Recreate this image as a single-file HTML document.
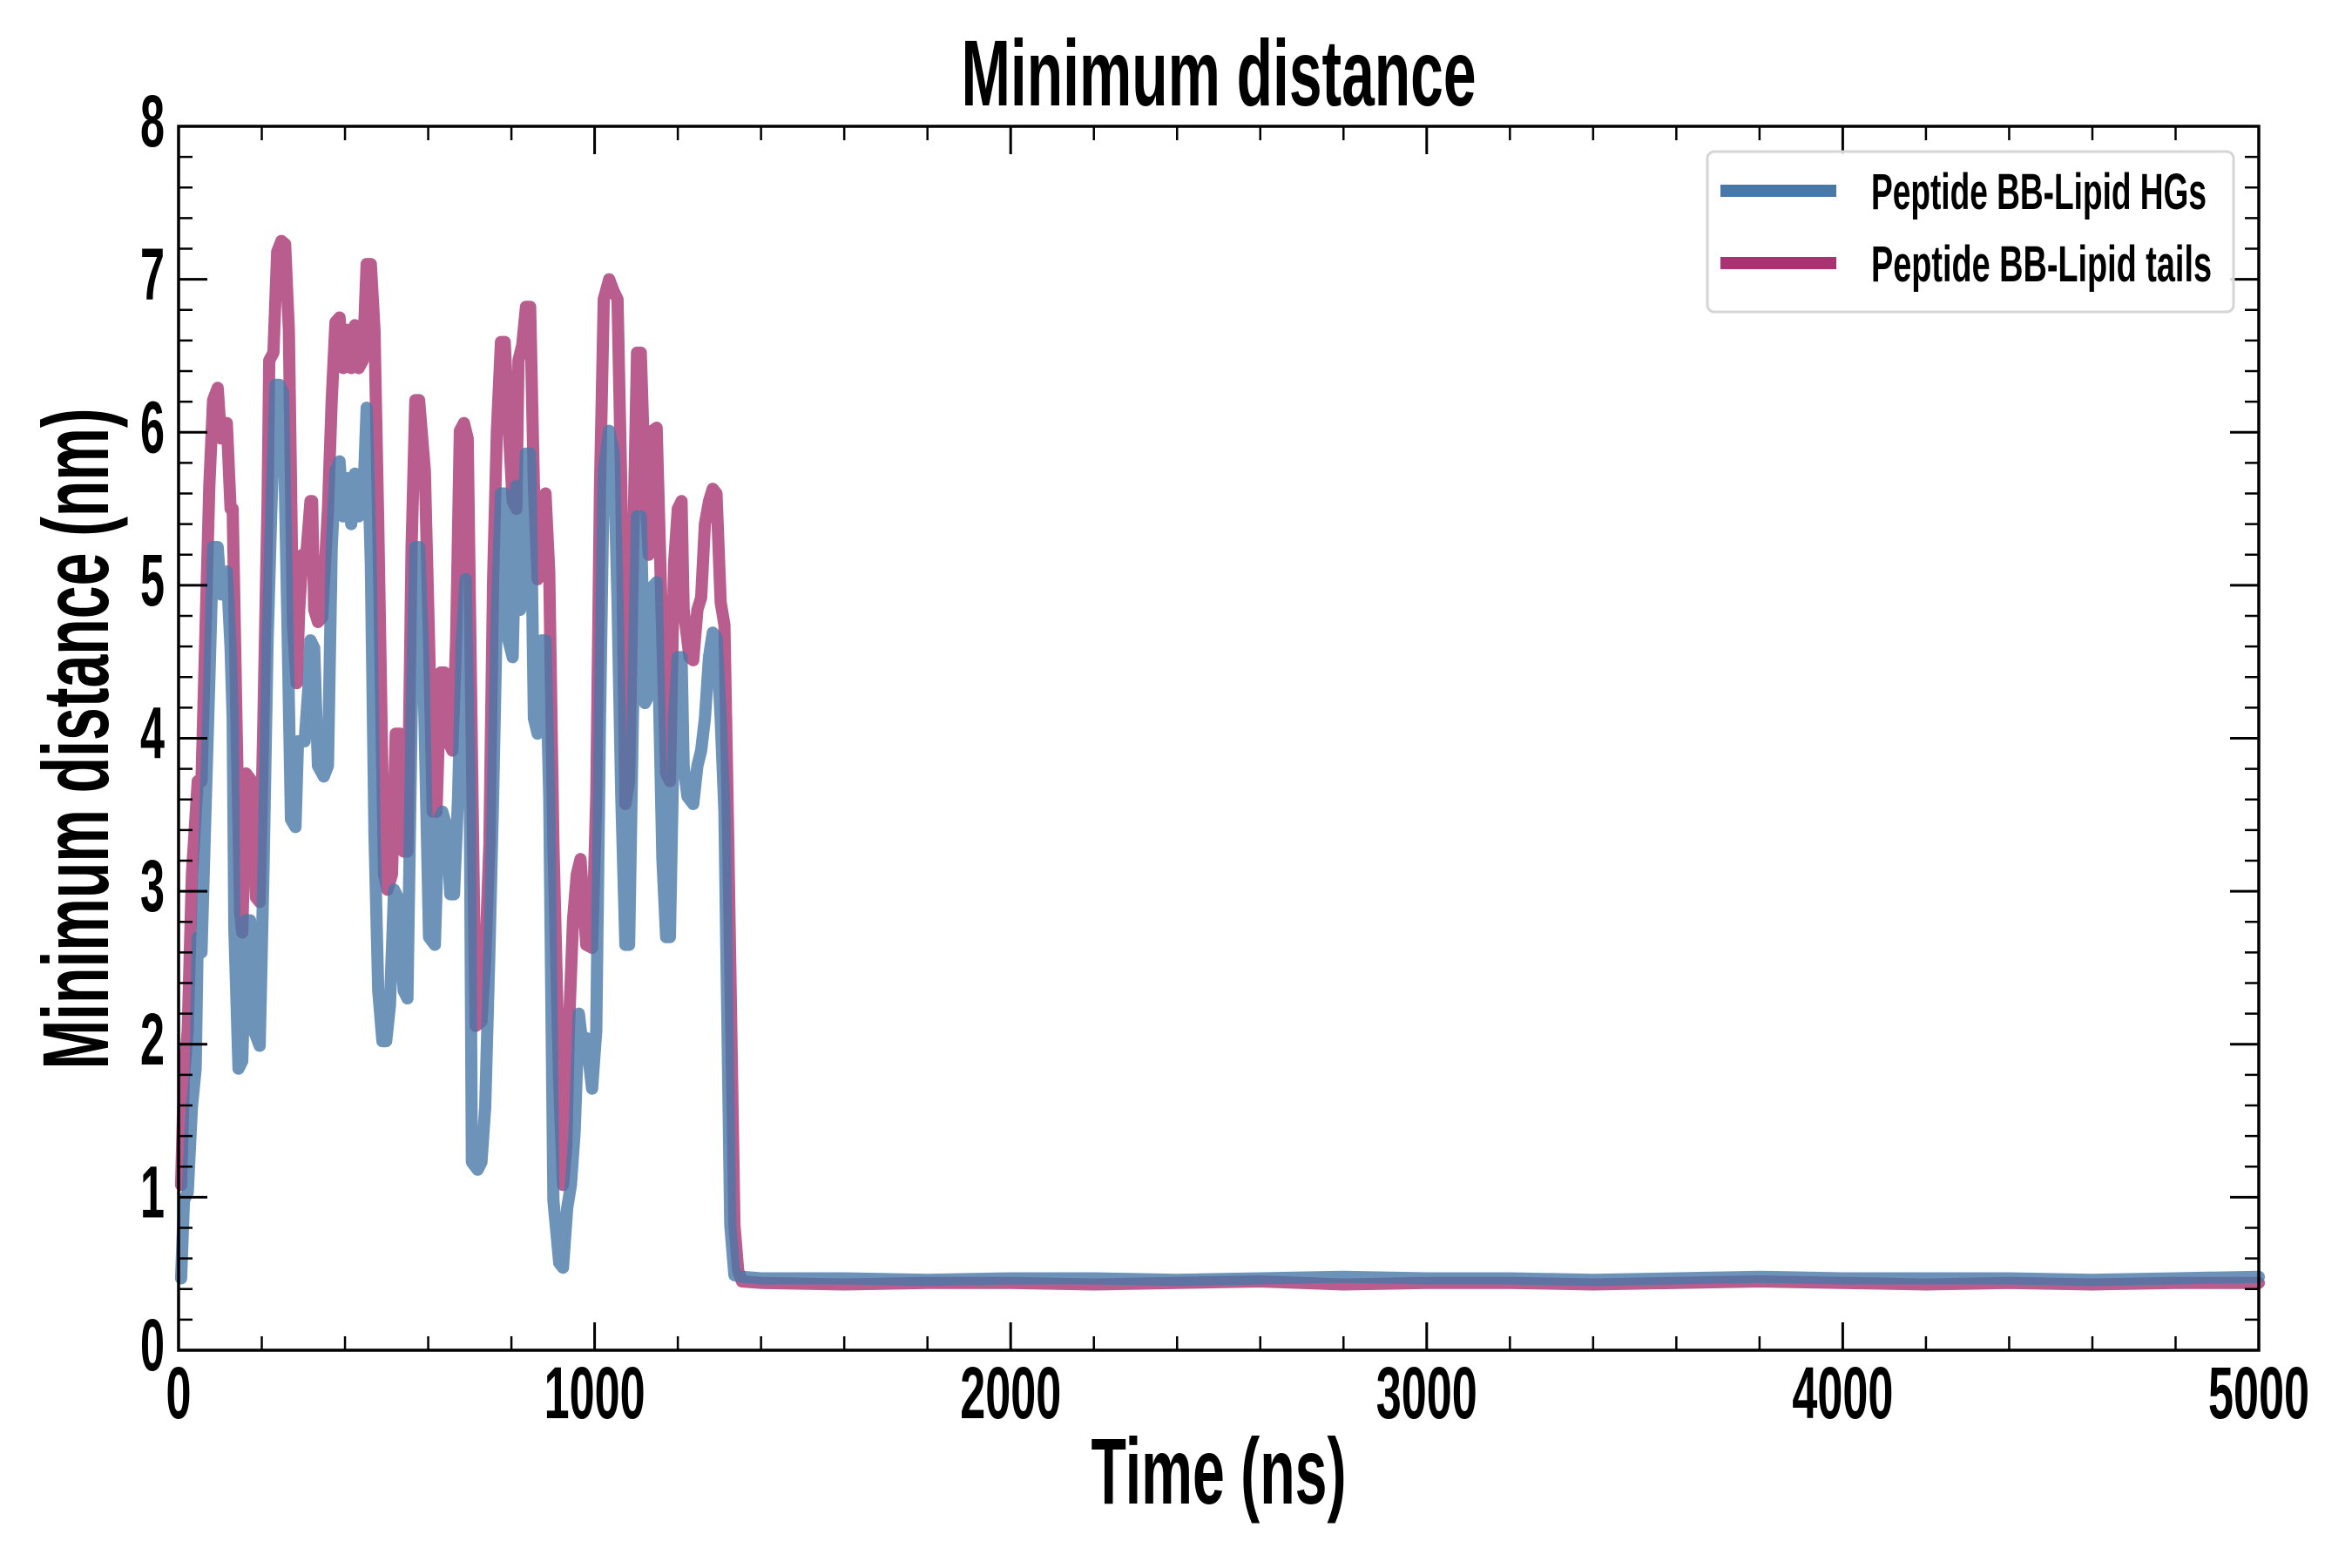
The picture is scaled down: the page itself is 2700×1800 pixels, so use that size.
<!DOCTYPE html>
<html><head><meta charset="utf-8">
<style>
html,body{margin:0;padding:0;background:#fff;}
svg{display:block;}
text{font-family:"Liberation Sans Narrow","Liberation Sans",sans-serif;font-weight:bold;fill:#000;}
</style></head>
<body>
<svg id="chart" width="2700" height="1800" viewBox="0 0 2700 1800" xmlns="http://www.w3.org/2000/svg">
<rect width="2700" height="1800" fill="#fff"/>
<g id="lines"></g>
<g id="ticks"></g>
<rect x="205" y="145" width="2388" height="1405" fill="none" stroke="#000" stroke-width="3.5"/>
<g id="labels"></g>
<text x="1399" y="121" font-size="108" text-anchor="middle" textLength="591" lengthAdjust="spacingAndGlyphs">Minimum distance</text>
<text x="1399" y="1726" font-size="108" text-anchor="middle" textLength="293" lengthAdjust="spacingAndGlyphs">Time (ns)</text>
<text transform="translate(124,848) rotate(-90)" x="0" y="0" font-size="108" text-anchor="middle" textLength="759" lengthAdjust="spacingAndGlyphs">Minimum distance (nm)</text>
<g>
<rect x="1960" y="174" width="604" height="184" rx="8" fill="#fff" fill-opacity="0.85" stroke="#d5d5d5" stroke-width="3"/>
<line x1="1975" y1="219" x2="2108" y2="219" stroke="#4878a8" stroke-width="14"/>
<text x="2148" y="240" font-size="58" textLength="385" lengthAdjust="spacingAndGlyphs">Peptide BB-Lipid HGs</text>
<line x1="1975" y1="302" x2="2108" y2="302" stroke="#a83372" stroke-width="14"/>
<text x="2148" y="323" font-size="58" textLength="391" lengthAdjust="spacingAndGlyphs">Peptide BB-Lipid tails</text>
</g>
</svg>
<script>
const tailsTime=[6,13,22,32,46,55,64,74,83,94,102,116,125,130,139,148,153,162,176,186,195,204,214,218,228,237,247,256,265,275,284,290,298,307,317,321,326,335,345,359,368,377,387,396,405,415,424,433,443,452,462,471,480,494,502,513,522,532,541,550,560,569,578,592,602,611,620,630,639,648,658,667,676,686,695,705,714,728,737,747,756,765,775,784,793,803,812,817,826,835,845,854,863,873,882,891,901,915,924,932,938,948,957,966,980,994,1004,1013,1022,1035,1046,1055,1064,1074,1083,1092,1102,1111,1121,1130,1139,1149,1163,1172,1181,1191,1200,1209,1214,1228,1237,1247,1256,1265,1275,1284,1293,1303,1312,1321,1336,1345,1354,1400,1600,1800,2000,2200,2400,2600,2800,3000,3200,3400,3600,3800,4000,4200,4400,4600,4800,5000];
const tailsValue=[1.08,1.79,2.09,3.11,3.72,3.72,4.64,5.65,6.21,6.29,5.96,6.06,5.50,5.50,4.13,2.86,2.73,3.77,3.72,2.96,2.93,4.13,5.55,6.47,6.52,7.18,7.25,7.23,6.67,4.74,4.36,4.84,5.20,5.20,5.55,5.55,4.84,4.76,4.79,5.50,6.21,6.72,6.75,6.42,6.67,6.42,6.70,6.42,6.47,7.10,7.10,6.67,5.40,3.11,3.01,3.11,4.03,4.03,3.26,3.26,5.25,6.21,6.21,5.75,4.64,3.52,3.52,4.43,4.43,3.98,3.92,4.64,6.01,6.06,5.96,3.92,2.12,2.15,2.55,3.31,5.04,6.01,6.59,6.59,6.06,5.55,5.50,6.47,6.57,6.82,6.82,5.65,5.04,5.55,5.60,5.09,3.31,1.74,1.08,1.33,2.09,2.81,3.11,3.21,2.65,2.63,3.62,5.65,6.87,7.00,6.92,6.87,5.65,3.57,3.72,5.14,6.52,6.52,5.65,5.20,6.01,6.03,4.64,3.77,3.72,5.14,5.50,5.55,4.84,4.53,4.51,4.84,4.92,5.40,5.55,5.63,5.60,4.89,4.74,3.37,0.82,0.52,0.45,0.44,0.43,0.44,0.44,0.43,0.44,0.45,0.43,0.44,0.44,0.43,0.44,0.45,0.44,0.43,0.44,0.43,0.44,0.44,0.44];
const hgsTime=[6,13,22,32,41,46,55,64,74,83,94,102,116,125,130,134,144,153,162,172,181,195,204,214,223,233,242,251,261,270,281,287,303,312,317,326,335,349,359,368,377,387,396,405,415,424,433,443,452,462,471,480,490,499,508,518,527,541,550,560,569,578,588,602,616,625,634,644,653,662,672,681,690,700,705,719,728,737,747,756,765,775,784,793,803,812,821,835,845,854,863,873,882,891,901,915,924,934,943,952,962,971,980,994,1004,1013,1022,1035,1046,1055,1064,1074,1083,1092,1102,1111,1121,1130,1139,1149,1163,1172,1181,1191,1200,1209,1214,1223,1237,1247,1256,1265,1275,1284,1293,1303,1312,1326,1336,1354,1400,1600,1800,2000,2200,2400,2600,2800,3000,3200,3400,3600,3800,4000,4200,4400,4600,4800,5000];
const hgsValue=[0.47,0.98,1.03,1.59,1.84,2.70,2.60,3.47,4.38,5.25,5.25,4.94,5.09,4.59,4.13,2.76,1.84,1.89,2.81,2.81,2.09,1.99,3.11,4.64,5.50,6.31,6.31,6.26,4.84,3.47,3.42,3.98,3.98,4.33,4.64,4.59,3.82,3.75,3.82,5.25,5.75,5.81,5.45,5.70,5.40,5.73,5.45,5.50,6.16,5.14,3.37,2.35,2.02,2.02,2.25,3.01,2.96,2.35,2.30,4.13,5.25,5.25,4.53,2.70,2.65,3.47,3.52,3.42,2.98,2.98,3.62,4.64,5.04,3.62,1.23,1.18,1.23,1.59,2.60,3.62,4.84,5.60,5.60,4.64,4.53,5.65,4.84,5.86,5.86,4.13,4.03,4.64,4.64,3.62,0.98,0.57,0.54,0.93,1.08,1.43,2.20,1.99,2.04,1.71,2.09,4.13,5.75,6.01,5.86,4.89,3.62,2.65,2.65,4.13,5.45,5.45,4.23,4.28,4.99,5.02,3.21,2.70,2.70,4.13,4.53,4.53,3.82,3.62,3.57,3.82,3.92,4.13,4.53,4.69,4.66,4.13,3.52,0.82,0.49,0.48,0.47,0.47,0.46,0.47,0.47,0.46,0.47,0.48,0.47,0.47,0.46,0.47,0.48,0.47,0.47,0.47,0.46,0.47,0.48];
const xTicks=[0,1000,2000,3000,4000,5000];
const yTicks=[0,1,2,3,4,5,6,7,8];

const X0=205,X1=2593,Y0=1550,Y1=145;
function sx(t){return X0+(t/5000)*(X1-X0);}
function sy(v){return Y0-(v/8)*(Y0-Y1);}
const NS='http://www.w3.org/2000/svg';

function drawLine(ts,vs,color,name){
  let d='';
  for(let i=0;i<ts.length;i++){d+=(i?'L':'M')+sx(ts[i]).toFixed(1)+','+sy(vs[i]).toFixed(1);}
  const p=document.createElementNS(NS,'path');
  p.setAttribute('d',d);
  p.setAttribute('fill','none');
  p.setAttribute('stroke',color);
  p.setAttribute('stroke-width','14');
  p.setAttribute('stroke-linejoin','round');
  p.setAttribute('stroke-linecap','round');
  p.setAttribute('stroke-opacity','0.8');
  
  
  document.getElementById('lines').appendChild(p);
}
drawLine(tailsTime,tailsValue,'#a83372','series-lipid-tails');
drawLine(hgsTime,hgsValue,'#4878a8','series-lipid-hgs');

const tg=document.getElementById('ticks');
function tick(x1,y1,x2,y2,w){
  const l=document.createElementNS(NS,'line');
  l.setAttribute('x1',x1);l.setAttribute('y1',y1);l.setAttribute('x2',x2);l.setAttribute('y2',y2);
  l.setAttribute('stroke','#000');l.setAttribute('stroke-width',w);
  
  
  tg.appendChild(l);
}
for(let t=0;t<=5000;t+=200){
  const major=t%1000===0, L=major?32:16, w=major?3:2.5, x=sx(t);
  tick(x,Y0,x,Y0-L,w); tick(x,Y1,x,Y1+L,w);
}
for(let k=0;k<=40;k++){
  const v=k*0.2, major=k%5===0, L=major?33:16, w=major?3:2.5, y=sy(v);
  tick(X0,y,X0+L,y,w); tick(X1,y,X1-L,y,w);
}
const lg=document.getElementById('labels');
xTicks.forEach(t=>{
  const e=document.createElementNS(NS,'text');
  e.setAttribute('x',sx(t));e.setAttribute('y',1628);
  e.setAttribute('font-size','84');e.setAttribute('text-anchor','middle');
  e.setAttribute('textLength',String(t).length*29);e.setAttribute('lengthAdjust','spacingAndGlyphs');
  e.textContent=t;
  
  
  lg.appendChild(e);
});
yTicks.forEach(v=>{
  const e=document.createElementNS(NS,'text');
  e.setAttribute('x',189);e.setAttribute('y',sy(v)+23);
  e.setAttribute('font-size','84');e.setAttribute('text-anchor','end');
  e.setAttribute('textLength',28);e.setAttribute('lengthAdjust','spacingAndGlyphs');
  e.textContent=v;
  
  
  lg.appendChild(e);
});
</script>
</body></html>
